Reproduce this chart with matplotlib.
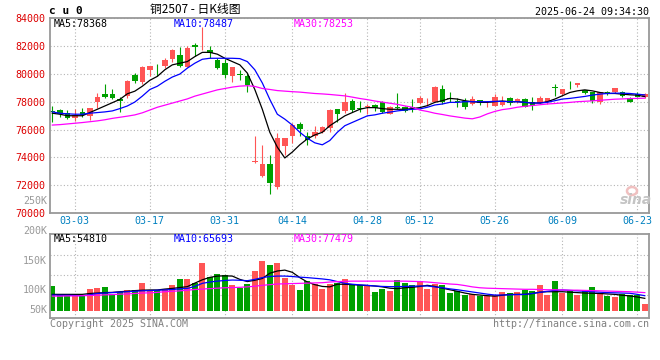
import numpy as np
import matplotlib.pyplot as plt
from matplotlib.patches import Ellipse

plt.rcParams['font.family'] = ['DejaVu Sans Mono', 'Noto Sans CJK SC']

# trading days shown (2025-02-26 .. 2025-06-24)
dates = ['02-26', '02-27', '02-28',
         '03-03', '03-04', '03-05', '03-06', '03-07', '03-10', '03-11', '03-12', '03-13', '03-14',
         '03-17', '03-18', '03-19', '03-20', '03-21', '03-24', '03-25', '03-26', '03-27', '03-28',
         '03-31', '04-01', '04-02', '04-03', '04-07', '04-08', '04-09', '04-10', '04-11',
         '04-14', '04-15', '04-16', '04-17', '04-18', '04-21', '04-22', '04-23', '04-24', '04-25',
         '04-28', '04-29', '04-30', '05-06', '05-07', '05-08', '05-09',
         '05-12', '05-13', '05-14', '05-15', '05-16', '05-19', '05-20', '05-21', '05-22', '05-23',
         '05-26', '05-27', '05-28', '05-29', '05-30', '06-03', '06-04', '06-05', '06-06',
         '06-09', '06-10', '06-11', '06-12', '06-13', '06-16', '06-17', '06-18', '06-19', '06-20',
         '06-23', '06-24']
tick_dates = ['03-03', '03-17', '03-31', '04-14', '04-28', '05-12', '05-26', '06-09', '06-23']

opens = [77300, 77384, 77171, 76840, 77266, 76982, 77976, 78520, 78520, 78165,
         78402, 79940, 79396, 80296, 80296, 80580, 81053, 81361, 80532, 82095,
         81980, 81716, 81006, 80769, 79870, 79960, 79870, 73650, 72650, 73502,
         71845, 74781, 75514, 76390, 75562, 75514, 75846, 76083, 77455, 77337,
         78047, 77510, 77645, 77763, 77976, 77100, 77590, 77645, 77574, 77900,
         78165, 77953, 78947, 78237, 78010, 78071, 77834, 78118, 77953, 77716,
         77763, 78237, 77976, 78190, 77953, 77905, 78000, 79030, 78544, 78970,
         79183, 78852, 78663, 77953, 78710, 78663, 78663, 78260, 78544, 78355]
highs = [77692, 77455, 77384, 77455, 77526, 77574, 78592, 79302, 78923, 78355,
         79538, 80059, 80580, 80600, 80722, 81124, 81763, 81905, 82000, 82189,
         83350, 82000, 81124, 81053, 80532, 80296, 80059, 75562, 74852, 74142,
         75751, 75372, 76461, 76509, 75798, 76225, 76225, 77503, 77503, 78592,
         78165, 78047, 77810, 77810, 78047, 77700, 78592, 77700, 78213, 78400,
         78237, 79136, 79183, 78663, 78237, 78237, 78426, 78140, 78071, 78544,
         78426, 78308, 78237, 78237, 78308, 78426, 78260, 79254, 78947, 79491,
         79373, 78852, 78710, 78710, 78781, 78970, 78734, 78308, 78663, 78592]
lows = [76556, 76864, 76745, 76627, 76935, 76674, 77574, 78300, 78165, 77266,
        78284, 79349, 79302, 79822, 79822, 80414, 80887, 80532, 80485, 81290,
        81716, 81124, 80343, 79704, 79420, 79586, 78686, 73600, 72603, 71348,
        71727, 74189, 75041, 75562, 74899, 75420, 75727, 75798, 76556, 77219,
        77266, 77266, 77100, 77337, 77219, 77100, 77455, 77280, 77266, 77850,
        77716, 77953, 77834, 77953, 77600, 77480, 77787, 77763, 77645, 77716,
        77716, 77763, 77882, 77598, 77432, 77834, 77834, 78426, 78473, 78947,
        79089, 78544, 77882, 77834, 78473, 78615, 78308, 77953, 78308, 78237]
closes = [77230, 77100, 76840, 77029, 77029, 77574, 78331, 78331, 78236, 78047,
          79467, 79467, 80532, 80580, 80250, 81006, 81716, 80603, 81834, 81905,
          82010, 81527, 80414, 79940, 80532, 79940, 79183, 73700, 73502, 72130,
          75396, 75372, 76343, 76035, 75278, 75846, 76201, 77408, 77100, 77976,
          77408, 77490, 77668, 77574, 77266, 77645, 77570, 77337, 77550, 78300,
          78190, 79065, 77953, 78213, 77990, 77598, 78190, 77882, 77976, 78308,
          78071, 77882, 78190, 77598, 77716, 78237, 78260, 79010, 78947, 78950,
          79373, 78592, 78071, 78663, 78544, 78970, 78426, 78000, 78355, 78544]

ma5 = [77171, 77100, 76990, 76990, 76990, 77218, 77455, 77692, 77929, 78165,
       78568, 78757, 79112, 79538, 79822, 80296, 80651, 80769, 80887, 81243,
       81550, 81550, 81420, 81124, 80887, 80651, 80059, 78876, 77455, 75799,
       74733, 73952, 74378, 74899, 75325, 75609, 75799, 76272, 76627, 76982,
       77219, 77455, 77574, 77574, 77503, 77455, 77455, 77455, 77503, 77574,
       77716, 77953, 78071, 78237, 78190, 78071, 78000, 77953, 77953, 78000,
       78047, 78000, 78000, 77953, 77905, 77905, 78000, 78190, 78426, 78663,
       78781, 78852, 78781, 78663, 78592, 78592, 78544, 78497, 78470, 78368]
ma10 = [77266, 77171, 77130, 77100, 77100, 77171, 77218, 77266, 77337, 77503,
        77692, 77976, 78402, 78876, 79112, 79467, 79775, 79988, 80414, 80769,
        81053, 81124, 81124, 81124, 81124, 81100, 80887, 80296, 79349, 78165,
        77100, 76745, 76319, 75799, 75372, 75041, 74899, 75207, 75799, 76272,
        76509, 76745, 76982, 77053, 77171, 77250, 77337, 77400, 77455, 77480,
        77598, 77763, 77834, 77953, 77953, 78000, 78000, 78000, 78000, 78024,
        78024, 78000, 78000, 77953, 77905, 77905, 77953, 78071, 78190, 78237,
        78308, 78379, 78473, 78544, 78592, 78615, 78615, 78592, 78544, 78487]
ma30 = [76319, 76350, 76400, 76450, 76500, 76560, 76620, 76700, 76800, 76880,
        76960, 77050, 77200, 77400, 77600, 77750, 77900, 78050, 78200, 78400,
        78550, 78700, 78850, 78950, 79050, 79120, 79150, 79100, 78950, 78880,
        78800, 78760, 78720, 78690, 78640, 78590, 78560, 78520, 78470, 78420,
        78330, 78230, 78150, 78050, 77970, 77890, 77810, 77700, 77600, 77400,
        77300, 77171, 77080, 76980, 76900, 76820, 76769, 76900, 77124, 77300,
        77430, 77500, 77600, 77669, 77720, 77780, 77834, 77870, 77910, 77950,
        78000, 78030, 78060, 78100, 78140, 78180, 78200, 78220, 78240, 78253]

# volume, thousands of lots
volume = [112, 71, 71, 66, 71, 98, 103, 106, 76, 86,
          94, 94, 127, 91, 94, 98, 116, 143, 143, 127,
          218, 151, 166, 160, 116, 101, 121, 181, 225, 207,
          218, 150, 116, 94, 134, 119, 98, 122, 124, 143,
          116, 116, 116, 86, 98, 89, 139, 127, 116, 134,
          98, 121, 116, 82, 91, 71, 76, 68, 68, 71,
          85, 79, 86, 94, 91, 116, 71, 136, 82, 91,
          71, 94, 106, 82, 68, 63, 76, 71, 71, 30]
vma5 = [74, 74, 74, 74, 74, 78, 80, 82, 83, 86, 88, 91, 93, 94, 94, 98, 101, 105, 109, 125,
        140, 151, 157, 158, 157, 142, 132, 138, 146, 170, 180, 184, 174, 150, 130, 118, 110, 108, 120, 120,
        118, 116, 114, 112, 108, 102, 100, 104, 106, 110, 115, 110, 102, 95, 88, 80, 74, 71, 68, 66,
        70, 74, 74, 74, 78, 84, 86, 86, 86, 84, 82, 80, 79, 78, 76, 74, 70, 67, 62, 56]
vma10 = [71, 70, 70, 69, 68, 72, 78, 80, 82, 84, 86, 88, 90, 91, 93, 94, 96, 99, 101, 110,
         124, 130, 134, 137, 139, 138, 136, 142, 150, 155, 157, 157, 155, 152, 150, 147, 144, 140, 132, 124,
         120, 117, 115, 112, 110, 109, 109, 110, 111, 112, 112, 108, 104, 99, 95, 90, 85, 80, 75, 71,
         71, 72, 73, 74, 78, 83, 88, 92, 94, 92, 90, 88, 86, 84, 82, 81, 80, 79, 74, 68]
vma30 = [66, 66, 67, 67, 68, 69, 70, 72, 73, 75, 76, 78, 80, 81, 83, 86, 88, 90, 93, 96,
         98, 100, 102, 104, 105, 106, 108, 111, 115, 118, 121, 122, 123, 124, 125, 126, 127, 130, 132, 133,
         134, 134, 134, 134, 134, 134, 134, 134, 133, 132, 130, 127, 124, 121, 119, 114, 108, 104, 102, 101,
         100, 99, 98, 97, 97, 96, 95, 95, 94, 93, 93, 92, 91, 90, 89, 88, 87, 86, 84, 82]

RED = '#FF5555'
GREEN = '#00A000'
GRID = '#B4B4B4'
FRAME = '#999999'
W, H = 660, 360


def box(l, t, r, b):
    return [l / W, 1 - b / H, (r - l) / W, (b - t) / H]


def ftext(x, y, s, **kw):
    fig.text(x / W, 1 - y / H, s, va='center', **kw)


fig = plt.figure(figsize=(W / 100, H / 100), dpi=100)
ax = fig.add_axes(box(50, 18.3, 649, 212.9))
axv = fig.add_axes(box(50, 234.3, 649, 318.3))

o = np.array(opens, float)
c = np.array(closes, float)
x = np.arange(len(dates))
cols = np.where(c >= o, RED, GREEN)
ticks = [dates.index(d) for d in tick_dates]

# candles
ax.vlines(x, lows, highs, colors=cols, lw=0.8, zorder=2)
ax.bar(x, np.maximum(np.abs(c - o), 55), bottom=np.minimum(o, c), width=0.74,
       color=cols, lw=0, zorder=2)
ax.plot(x, ma5, color='black', lw=0.9, zorder=3)
ax.plot(x, ma10, color='#0000FF', lw=0.9, zorder=3)
ax.plot(x, ma30, color='#FF00FF', lw=0.9, zorder=3)

# volume
axv.bar(x, volume, width=0.76, color=cols, lw=0, zorder=2)
axv.plot(x, vma5, color='black', lw=0.9, zorder=3)
axv.plot(x, vma10, color='#0000FF', lw=0.9, zorder=3)
axv.plot(x, vma30, color='#FF00FF', lw=0.9, zorder=3)

for a in (ax, axv):
    a.set_xlim(-0.31, 79.56)
    a.set_xticks(ticks)
    a.grid(True, ls=(0, (1, 2)), color=GRID, lw=0.8, zorder=0)
    for s in a.spines.values():
        s.set_color(FRAME)
        s.set_linewidth(1.3)
    a.tick_params(length=0)

ax.set_ylim(70000, 84000)
ax.set_yticks(range(70000, 84001, 2000))
ax.tick_params(axis='y', labelcolor='#DD0000', labelsize=7.2, pad=3)
ax.set_xticklabels(tick_dates)
ax.tick_params(axis='x', labelcolor='#0080C0', labelsize=7.2, pad=2.5)

axv.set_ylim(-34.5, 346.4)
axv.set_yticks([71, 162, 252.5])
axv.set_yticklabels([])
axv.set_xticklabels([])

# volume scale labels (as drawn by the source chart)
for lab, yy in [('250K', 200.7), ('200K', 230.7), ('150K', 260.7), ('100K', 290), ('50K', 310)]:
    ftext(47, yy, lab, ha='right', color='#999999', fontsize=7.2)

# header
ftext(49, 11, 'c u 0', ha='left', fontsize=8, fontweight='bold')
ftext(195, 10, '铜2507 - 日K线图', ha='center', fontsize=8.5,
      family=['Noto Sans CJK SC', 'DejaVu Sans'])
ftext(649, 12, '2025-06-24 09:34:30', ha='right', fontsize=7.2)

ftext(54, 24, 'MA5:78368', ha='left', fontsize=7.2, color='black')
ftext(174, 24, 'MA10:78487', ha='left', fontsize=7.2, color='#0000FF')
ftext(294, 24, 'MA30:78253', ha='left', fontsize=7.2, color='#FF00FF')
ftext(54, 238.5, 'MA5:54810', ha='left', fontsize=7.2, color='black')
ftext(174, 238.5, 'MA10:65693', ha='left', fontsize=7.2, color='#0000FF')
ftext(294, 238.5, 'MA30:77479', ha='left', fontsize=7.2, color='#FF00FF')

ftext(50, 324, 'Copyright 2025 SINA.COM', ha='left', fontsize=7.2, color='#808080')
ftext(649, 324, 'http://finance.sina.com.cn', ha='right', fontsize=7.2, color='#808080')

# watermark
fig.patches.append(Ellipse((632 / W, 1 - 191 / H), 10 / W, 8 / H, transform=fig.transFigure,
                           facecolor='none', edgecolor='#F0C0C0', lw=1.8))
ftext(636, 200, 'sina', ha='center', fontsize=10, color='#C4C4C4', fontweight='bold',
      fontstyle='italic', family='DejaVu Sans')

fig.savefig('out.png', dpi=100)
